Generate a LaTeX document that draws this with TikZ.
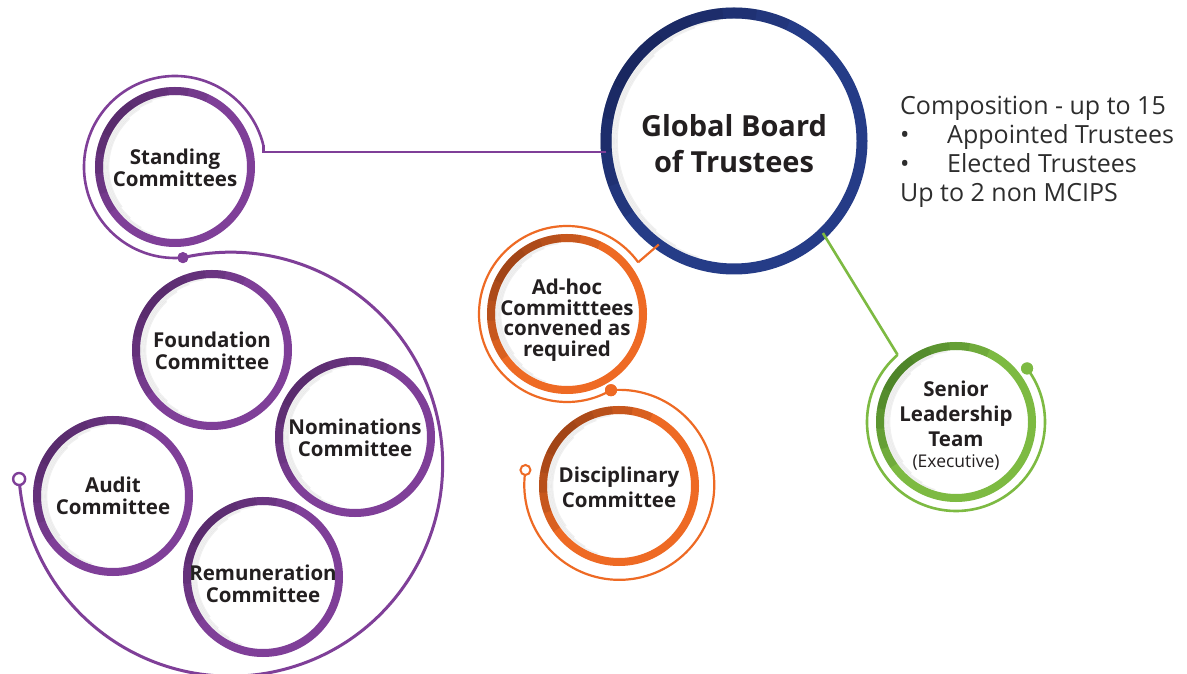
\documentclass[tikz,border=0pt]{standalone}
\usepackage{fontspec}
\setmainfont{Open Sans}
\usetikzlibrary{calc}
\definecolor{purpleC}{RGB}{127,63,152}
\definecolor{purpleD}{RGB}{66,34,84}
\definecolor{orangeC}{RGB}{238,106,36}
\definecolor{orangeD}{RGB}{115,48,18}
\definecolor{greenC}{RGB}{125,186,66}
\definecolor{greenD}{RGB}{50,100,28}
\definecolor{navyC}{RGB}{37,60,135}
\definecolor{navyD}{RGB}{20,30,72}
\definecolor{textC}{RGB}{35,31,32}
\definecolor{greyT}{RGB}{45,45,45}
\newcommand\ringshade[4]{%
  \foreach \k in {1,...,5}{%
    \draw[#3,line width=#4,opacity=.17] ([shift={({140-15*\k}:#2)}]#1.center) arc[start angle={140-15*\k}, end angle={140+15*\k}, radius=#2];}
  \foreach \k in {1,...,4}{%
    \draw[black,line width=1.6,opacity=.06] ([shift={({85+12*\k}:{#2-#4/2-1.5*\k+0.5})}]#1.center) arc[start angle={85+12*\k}, end angle={265-12*\k}, radius={#2-#4/2-1.5*\k+0.5}];}
}
\tikzset{
  ring/.style={circle, draw=#1, line width=8, fill=white, inner sep=0pt, outer sep=0pt, minimum size=152},
  lbl/.style={align=center, text=textC, font=\bfseries\fontsize{20.5}{22}\selectfont, inner sep=0pt},
  pthin/.style={draw=purpleC, line width=2.6},
  othin/.style={draw=orangeC, line width=2.2},
  gthin/.style={draw=greenC, line width=2.6},
  fdot/.style={circle, fill=#1, inner sep=0pt, minimum size=12},
  odot/.style={circle, draw=#1, fill=white, line width=2.4, inner sep=0pt, minimum size=11},
  rtext/.style={anchor=base west, text=greyT, font=\fontsize{25}{29}\selectfont, inner sep=0pt}
}
\begin{document}
\begin{tikzpicture}[x=1pt,y=1pt]
\useasboundingbox[fill=white] (0,0) rectangle (1187,673);

% main circles
\node[ring=navyC, line width=11, minimum size=256] (gb) at (734,532) {};
\node[ring=purpleC] (sc) at (175,506) {};
\node[ring=purpleC] (fc) at (212,323) {};
\node[ring=purpleC] (nc) at (355,236) {};
\node[ring=purpleC] (ac) at (113,177) {};
\node[ring=purpleC] (rc) at (263,96) {};
\node[ring=orangeC] (ah) at (567,359) {};
\node[ring=orangeC] (dc) at (619,187) {};
\node[ring=greenC] (sl) at (956,251) {};

% shading
\ringshade{gb}{128}{navyD}{11}
\ringshade{sc}{76}{purpleD}{8}
\ringshade{fc}{76}{purpleD}{8}
\ringshade{nc}{76}{purpleD}{8}
\ringshade{ac}{76}{purpleD}{8}
\ringshade{rc}{76}{purpleD}{8}
\ringshade{ah}{76}{orangeD}{8}
\ringshade{dc}{76}{orangeD}{8}
\ringshade{sl}{76}{greenD}{8}

% purple connector and rings
\coordinate (pcarc) at ([shift={(14:91)}]sc.center);
\node[fdot=purpleC, minimum size=11] (pdot) at ([shift={(275:91)}]sc.center) {};
\draw[pthin] (gb.185) -| (pcarc);
\draw[pthin] (pcarc) arc[start angle=14, end angle=275, radius=91];
\draw[pthin, line width=3] (pdot.center) arc[start angle=103, end angle=-176, radius=212];
\node[odot=purpleC, minimum size=12] (popen) at ($(pdot.center)+(-176:212)-(103:212)$) {};
\node[fdot=purpleC, minimum size=11] at (pdot) {};

% orange connector and rings
\coordinate (ocorner) at ([shift={(36:88)}]ah.center);
\node[fdot=orangeC] (odotA) at ([shift={(300:88)}]ah.center) {};
\draw[othin] (gb.234) -- (ocorner);
\draw[othin] (ocorner) arc[start angle=36, end angle=300, radius=88];
\draw[othin] (odotA.center) arc[start angle=95, end angle=-189, radius=95];
\node[odot=orangeC, line width=2, minimum size=10] (oopen) at ($(odotA.center)+(-189:95)-(95:95)$) {};
\node[fdot=orangeC] at (odotA) {};

% green connector and ring
\coordinate (gcorner) at ([shift={(131:89)}]sl.center);
\node[fdot=greenC] (gdot) at ([shift={(37:89)}]sl.center) {};
\draw[gthin] (gb.-46) -- (gcorner);
\draw[gthin] (gcorner) arc[start angle=131, end angle=397, radius=89];
\node[fdot=greenC] at (gdot) {};

% labels
\node[lbl, font=\bfseries\fontsize{29}{36}\selectfont] (tgb) at (734,529) {Global Board\\of Trustees};
\node[lbl] (tsc) at (175,505) {Standing\\Committees};
\node[lbl] (tfc) at (212,322) {Foundation\\Committee};
\node[lbl] (tnc) at (355,235) {Nominations\\Committee};
\node[lbl] (tac) at (113,177) {Audit\\Committee};
\node[lbl] (trc) at (263,89) {Remuneration\\Committee};
\node[lbl, font=\bfseries\fontsize{20.5}{20.5}\selectfont] (tah) at (567,353) {Ad-hoc\\Committtees\\convened as\\required};
\node[lbl, font=\bfseries\fontsize{20.5}{25}\selectfont] (tdc) at (619,186) {Disciplinary\\Committee};
\node[lbl, font=\bfseries\fontsize{20.5}{25}\selectfont] (tsl) at (956,247) {Senior\\Leadership\\Team\\[-4pt]{\mdseries\fontsize{17.5}{20}\selectfont (Executive)}};

% composition text
\node[rtext] (c1) at (900,558) {Composition - up to 15};
\node[rtext] (c2) at (900,529.5) {•};
\node[rtext] (c3) at (947,529.5) {Appointed Trustees};
\node[rtext] (c4) at (900,500.5) {•};
\node[rtext] (c5) at (947,500.5) {Elected Trustees};
\node[rtext] (c6) at (900,471.5) {Up to 2 non MCIPS};
\end{tikzpicture}
\end{document}
